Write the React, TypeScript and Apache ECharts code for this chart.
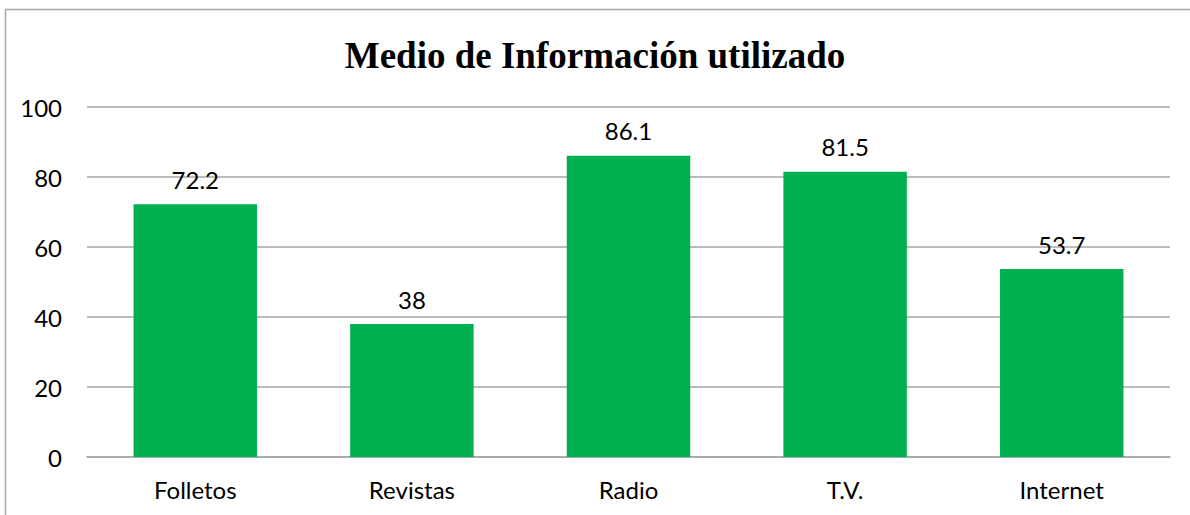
import React, { useEffect, useRef } from "react";
import * as echarts from "echarts";

const categories = ["Folletos", "Revistas", "Radio", "T.V.", "Internet"];
const values = [72.2, 38, 86.1, 81.5, 53.7];
const titleText = "Medio de Información utilizado";

export default function App() {
  const ref = useRef<HTMLDivElement>(null);
  useEffect(() => {
    const chart = echarts.init(ref.current!, null, { renderer: "svg" });
    chart.setOption({
      animation: false,
      backgroundColor: "#ffffff",
      title: {
        text: titleText,
        left: "center",
        top: 32,
        textStyle: {
          fontFamily: "Liberation Serif",
          fontWeight: "bold",
          fontSize: 37,
          color: "#000000",
        },
      },
      graphic: [
        {
          type: "rect",
          shape: { x: 5.5, y: 9.5, width: 1200, height: 600 },
          style: { fill: "none", stroke: "#a6a6a6", lineWidth: 1.5 },
          silent: true,
        },
      ],
      grid: { left: 87, right: 20, top: 107, bottom: 58, containLabel: false },
      xAxis: {
        type: "category",
        data: categories,
        axisLine: { show: true, lineStyle: { color: "#a6a6a6", width: 1.5 } },
        axisTick: { show: false },
        axisLabel: {
          color: "#000000",
          fontFamily: "Lato",
          fontSize: 24,
          margin: 20,
        },
      },
      yAxis: {
        type: "value",
        min: 0,
        max: 100,
        interval: 20,
        axisLine: { show: false },
        axisTick: { show: false },
        splitLine: { lineStyle: { color: "#a6a6a6", width: 1.5 } },
        axisLabel: {
          color: "#000000",
          fontFamily: "Lato",
          fontSize: 24,
          margin: 25,
        },
      },
      series: [
        {
          type: "bar",
          data: values,
          barWidth: "57%",
          itemStyle: { color: "#00b050" },
          label: {
            show: true,
            position: "top",
            distance: 13,
            color: "#000000",
            fontFamily: "Lato",
            fontSize: 24,
          },
        },
      ],
    });
    return () => chart.dispose();
  }, []);
  return (
    <div
      ref={ref}
      style={{ position: "absolute", left: 0, top: 0, width: 1190, height: 515 }}
    />
  );
}
